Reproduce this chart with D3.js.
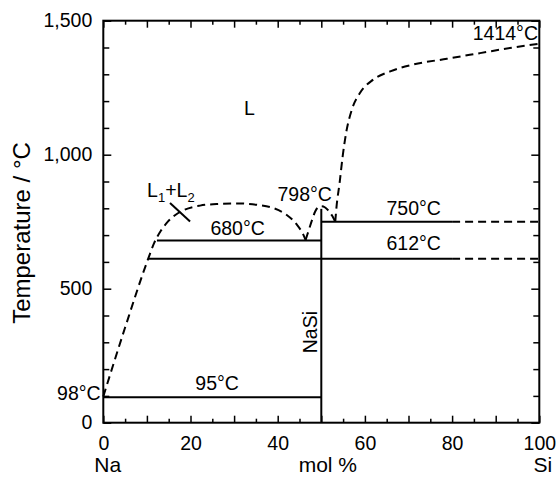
<!DOCTYPE html>
<html>
<head>
<meta charset="utf-8">
<script src="https://cdn.jsdelivr.net/npm/d3@7"></script>
<style>
  body { margin: 0; background: #fff; }
  text { font-family: "Liberation Sans", Arial, sans-serif; fill: #000; }
</style>
</head>
<body>
<svg id="chart" width="557" height="477"></svg>
<script>
// axis ticks
let xLabelTicks = [0, 20, 40, 60, 80, 100];
let yLabelTicks = [0, 500, 1000, 1500];

// liquidus (dashed), [mol % Si, temperature]
let liquidusLeft = [[0, 98], [5, 355], [10.3, 612], [11.7, 672], [13.2, 716], [14.8, 750], [16.6, 776], [18.7, 795],
    [22.2, 810], [26, 816], [31, 818], [35.2, 813], [39, 801], [42, 776], [44.4, 739], [45.9, 701], [46.4, 682]];
let liquidusNaSi = [[46.4, 682], [47.2, 722], [47.9, 757], [48.6, 788], [49.3, 804], [50, 808],
    [50.8, 804], [51.6, 792], [52.5, 772], [53.2, 750]];
let liquidusRight = [[53.2, 750], [53.5, 807], [54.2, 895], [54.9, 994], [55.7, 1082], [57, 1168], [58.9, 1231],
    [61.9, 1280], [65.8, 1311], [71, 1336], [78.8, 1358], [86.4, 1379], [94, 1400], [100, 1414]];

// invariant lines: temperature, solid from x0 to x1, dashed on to x2
let isoTemps = [95, 612, 680, 750];
let isoFrom = [0, 10.3, 12.3, 50];
let isoTo = [50, 80, 50, 80];
let isoDashTo = [null, 100, null, 100];

// NaSi compound line
let compoundX = 50;
let compoundT = 798;

// miscibility gap tie mark
let tieMark = [[15.3, 820], [19.9, 751]];

// labels
let labelText = ["680°C", "798°C", "750°C", "612°C", "95°C", "1414°C", "98°C"];
let labelX = [30.8, 46.2, 71.2, 71.2, 26.1, 99.7, -0.6];
let labelT = [701, 826, 775, 645, 122, 1428, 85];
let labelAnchor = ["middle", "middle", "middle", "middle", "middle", "end", "end"];

let svg = d3.select("#chart");

let x = d3.scaleLinear().domain([0, 100]).range([103.3, 539.3]);
let y = d3.scaleLinear().domain([0, 1500]).range([422.7, 20.7]);

let tickFont = "19.5px";
let labelFont = "19.5px";

function styleAxis(g) {
    g.selectAll(".domain").remove();
    g.selectAll("line").attr("stroke", "#000").attr("stroke-width", 1.5);
    g.selectAll("text").style("font-size", tickFont).attr("fill", "#000");
}

let minorX = d3.range(0, 101, 5).filter(d => d % 10 !== 0);
let majorX = d3.range(0, 101, 10);
let minorY = d3.range(0, 1501, 100).filter(d => d % 500 !== 0);

// bottom
svg.append("g").attr("transform", `translate(0,${y(0)})`)
    .call(d3.axisBottom(x).tickValues(majorX).tickSizeInner(-7).tickSizeOuter(0)
        .tickPadding(13.5).tickFormat(d => xLabelTicks.includes(d) ? d : ""))
    .call(styleAxis);
svg.append("g").attr("transform", `translate(0,${y(0)})`)
    .call(d3.axisBottom(x).tickValues(minorX).tickSizeInner(-4).tickSizeOuter(0).tickFormat(""))
    .call(styleAxis);
// top
svg.append("g").attr("transform", `translate(0,${y(1500)})`)
    .call(d3.axisTop(x).tickValues(majorX).tickSizeInner(-7).tickSizeOuter(0).tickFormat(""))
    .call(styleAxis);
svg.append("g").attr("transform", `translate(0,${y(1500)})`)
    .call(d3.axisTop(x).tickValues(minorX).tickSizeInner(-4).tickSizeOuter(0).tickFormat(""))
    .call(styleAxis);
// left
svg.append("g").attr("transform", `translate(${x(0)},0)`)
    .call(d3.axisLeft(y).tickValues(yLabelTicks).tickSizeInner(-8).tickSizeOuter(0)
        .tickPadding(11).tickFormat(d3.format(",")))
    .call(styleAxis);
svg.append("g").attr("transform", `translate(${x(0)},0)`)
    .call(d3.axisLeft(y).tickValues(minorY).tickSizeInner(-6).tickSizeOuter(0).tickFormat(""))
    .call(styleAxis);
// right
svg.append("g").attr("transform", `translate(${x(100)},0)`)
    .call(d3.axisRight(y).tickValues(yLabelTicks).tickSizeInner(-8).tickSizeOuter(0).tickFormat(""))
    .call(styleAxis);
svg.append("g").attr("transform", `translate(${x(100)},0)`)
    .call(d3.axisRight(y).tickValues(minorY).tickSizeInner(-6).tickSizeOuter(0).tickFormat(""))
    .call(styleAxis);

// frame
svg.append("rect")
    .attr("x", x(0)).attr("y", y(1500))
    .attr("width", x(100) - x(0)).attr("height", y(0) - y(1500))
    .attr("fill", "none").attr("stroke", "#000").attr("stroke-width", 2);

// solid isotherms
svg.selectAll(".iso")
    .data(isoTemps)
    .enter()
    .append("line")
    .classed("iso", true)
    .attr("x1", (d, i) => x(isoFrom[i]))
    .attr("x2", (d, i) => x(isoTo[i]))
    .attr("y1", d => y(d))
    .attr("y2", d => y(d))
    .attr("stroke", "#000")
    .attr("stroke-width", 2);

// dashed continuations
svg.selectAll(".isoDash")
    .data(isoTemps.filter((d, i) => isoDashTo[i] !== null))
    .enter()
    .append("line")
    .classed("isoDash", true)
    .attr("x1", d => x(isoTo[isoTemps.indexOf(d)]))
    .attr("x2", d => x(isoDashTo[isoTemps.indexOf(d)]))
    .attr("y1", d => y(d))
    .attr("y2", d => y(d))
    .attr("stroke", "#000")
    .attr("stroke-width", 2)
    .attr("stroke-dasharray", "8,5");

// compound NaSi
svg.append("line")
    .attr("x1", x(compoundX)).attr("x2", x(compoundX))
    .attr("y1", y(0)).attr("y2", y(compoundT))
    .attr("stroke", "#000").attr("stroke-width", 2);

// liquidus curves
let line = d3.line()
    .x(d => x(d[0]))
    .y(d => y(d[1]))
    .curve(d3.curveMonotoneX);

svg.selectAll(".liquidus")
    .data([liquidusLeft, liquidusNaSi, liquidusRight])
    .enter()
    .append("path")
    .classed("liquidus", true)
    .attr("d", line)
    .attr("fill", "none")
    .attr("stroke", "#000")
    .attr("stroke-width", 2)
    .attr("stroke-dasharray", "8,5");

// tie mark
svg.append("path")
    .attr("d", d3.line().x(d => x(d[0])).y(d => y(d[1]))(tieMark))
    .attr("stroke", "#000").attr("stroke-width", 2);

// temperature labels
svg.selectAll(".tlabel")
    .data(labelText)
    .enter()
    .append("text")
    .classed("tlabel", true)
    .attr("x", (d, i) => x(labelX[i]))
    .attr("y", (d, i) => y(labelT[i]))
    .attr("text-anchor", (d, i) => labelAnchor[i])
    .style("font-size", labelFont)
    .text(d => d);

// phase labels
svg.append("text")
    .attr("x", x(33.5)).attr("y", y(1149))
    .attr("text-anchor", "middle").style("font-size", labelFont)
    .text("L");

let l12 = svg.append("text")
    .attr("x", x(15.5)).attr("y", y(843))
    .attr("text-anchor", "middle").style("font-size", labelFont);
l12.append("tspan").text("L");
l12.append("tspan").attr("dy", 5).style("font-size", "13px").text("1");
l12.append("tspan").attr("dy", -5).text("+L");
l12.append("tspan").attr("dy", 5).style("font-size", "13px").text("2");

svg.append("text")
    .attr("transform", `translate(${x(compoundX) - 4},${y(338)}) rotate(-90)`)
    .attr("text-anchor", "middle").style("font-size", labelFont)
    .text("NaSi");

// axis titles
svg.append("text")
    .attr("transform", `translate(30,233) rotate(-90)`)
    .attr("text-anchor", "middle").style("font-size", "24px")
    .text("Temperature / °C");

svg.append("text")
    .attr("x", x(1)).attr("y", 472)
    .attr("text-anchor", "middle").style("font-size", "21px")
    .text("Na");
svg.append("text")
    .attr("x", x(51.5)).attr("y", 472)
    .attr("text-anchor", "middle").style("font-size", "21px")
    .text("mol %");
svg.append("text")
    .attr("x", x(100.8)).attr("y", 472)
    .attr("text-anchor", "middle").style("font-size", "21px")
    .text("Si");
</script>
</body>
</html>
